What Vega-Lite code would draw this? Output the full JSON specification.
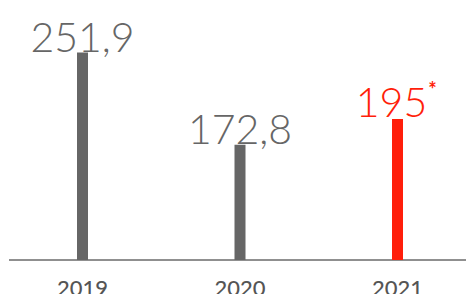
{
  "$schema": "https://vega.github.io/schema/vega-lite/v6.json",
  "width": 457,
  "height": 260,
  "autosize": {"type": "none"},
  "padding": {"left": 9, "top": 0, "right": 0, "bottom": 34},
  "background": "white",
  "config": {"view": {"stroke": null}},
  "data": {"values": [
    {"year": "2019", "value": 251.9, "label": "251,9", "note": "", "hl": "no"},
    {"year": "2020", "value": 172.8, "label": "172,8", "note": "", "hl": "no"},
    {"year": "2021", "value": 195, "label": "195", "note": "*", "hl": "yes"}
  ]},
  "layer": [
    {
      "mark": {"type": "rule", "color": "#808080", "strokeWidth": 1},
      "encoding": {"y": {"datum": 74, "type": "quantitative", "scale": {"domain": [74, 297], "zero": false, "nice": false}, "axis": null}}
    },
    {
      "mark": {"type": "bar", "size": 11},
      "encoding": {
        "x": {"field": "year", "type": "nominal", "sort": null,
              "scale": {"range": [-5.25, 467.25], "paddingInner": 0, "paddingOuter": 0},
              "axis": {"title": null, "domain": false, "ticks": false, "grid": false, "labelAngle": 0,
                       "labelFont": "Lato", "labelFontSize": 22, "labelFontWeight": 500, "labelColor": "#555555",
                       "labelPadding": 35, "labelBaseline": "alphabetic"}},
        "y": {"field": "value", "type": "quantitative", "scale": {"domain": [74, 297], "zero": false, "nice": false}, "axis": null},
        "y2": {"datum": 74},
        "color": {"field": "hl", "type": "nominal", "scale": {"domain": ["no", "yes"], "range": ["#666666", "#ff1e0a"]}, "legend": null}
      }
    },
    {
      "transform": [{"filter": "datum.note == ''"}],
      "mark": {"type": "text", "font": "Lato", "fontWeight": 300, "fontSize": 41, "dy": -13, "align": "center"},
      "encoding": {
        "x": {"field": "year", "type": "nominal", "sort": null},
        "y": {"field": "value", "type": "quantitative"},
        "text": {"field": "label"},
        "color": {"field": "hl", "type": "nominal", "scale": {"domain": ["no", "yes"], "range": ["#666666", "#ff1e0a"]}, "legend": null}
      }
    },
    {
      "transform": [{"filter": "datum.note != ''"}],
      "mark": {"type": "text", "font": "Lato", "fontWeight": 300, "fontSize": 41, "dy": -14, "dx": -6, "align": "center"},
      "encoding": {
        "x": {"field": "year", "type": "nominal", "sort": null},
        "y": {"field": "value", "type": "quantitative"},
        "text": {"field": "label"},
        "color": {"field": "hl", "type": "nominal", "scale": {"domain": ["no", "yes"], "range": ["#666666", "#ff1e0a"]}, "legend": null}
      }
    },
    {
      "transform": [{"filter": "datum.note != ''"}],
      "mark": {"type": "text", "font": "Lato", "fontWeight": "bold", "fontSize": 20, "dy": -28, "dx": 35, "align": "center"},
      "encoding": {
        "x": {"field": "year", "type": "nominal", "sort": null},
        "y": {"field": "value", "type": "quantitative"},
        "text": {"field": "note"},
        "color": {"field": "hl", "type": "nominal", "scale": {"domain": ["no", "yes"], "range": ["#666666", "#ff1e0a"]}, "legend": null}
      }
    }
  ]
}
